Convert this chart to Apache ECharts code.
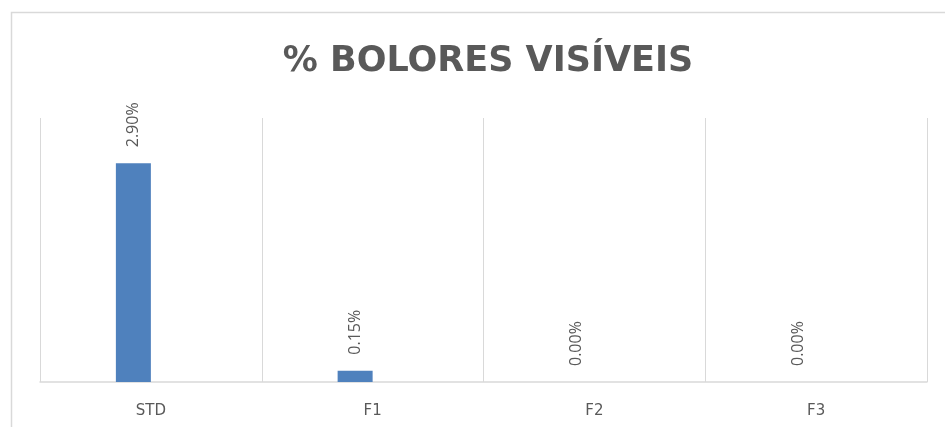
<!DOCTYPE html>
<html>
<head>
<meta charset="utf-8">
<script src="https://cdn.jsdelivr.net/npm/echarts@6/dist/echarts.min.js"></script>
<style>
  html, body { margin: 0; padding: 0; background: #fff; }
  #chart { width: 945px; height: 427px; }
</style>
</head>
<body>
<div id="chart"></div>
<script>
// dados do gráfico
var categorias = ['STD', 'F1', 'F2', 'F3'];
var bolores = [0.029, 0.0015, 0, 0];
var serieVazia = [null, null, null, null]; // segunda série sem valores (desloca as barras)
var tituloTexto = '% BOLORES VISÍVEIS';

var myChart = echarts.init(document.getElementById('chart'));

var option = {
  animation: false,
  title: {
    text: tituloTexto,
    left: 483,
    textAlign: 'center',
    top: 39,
    textStyle: {
      fontFamily: 'DejaVu Sans',
      fontWeight: 'bold',
      fontSize: 35,
      color: '#595959'
    }
  },
  graphic: [{
    type: 'rect',
    shape: { x: 11.5, y: 12.5, width: 960, height: 440 },
    style: { fill: 'none', stroke: '#d9d9d9', lineWidth: 1.5 },
    silent: true,
    z: -1
  }],
  grid: { left: 40, right: 18, top: 118, bottom: 45 },
  xAxis: {
    type: 'category',
    data: categorias,
    axisTick: { show: false },
    axisLine: { lineStyle: { color: '#d9d9d9', width: 1.5 } },
    splitLine: { show: true, lineStyle: { color: '#d9d9d9', width: 1 } },
    axisLabel: {
      color: '#595959',
      fontFamily: 'DejaVu Sans',
      fontSize: 15,
      margin: 22
    }
  },
  yAxis: {
    type: 'value',
    min: 0,
    max: 0.035,
    show: false,
    splitLine: { show: false }
  },
  series: [{
    type: 'bar',
    data: bolores,
    barWidth: 35,
    barGap: '0%',
    itemStyle: { color: '#4f81bd' },
    label: {
      show: true,
      position: 'top',
      rotate: 90,
      align: 'left',
      verticalAlign: 'middle',
      distance: 16,
      color: '#595959',
      fontFamily: 'Open Sans',
      fontSize: 16,
      formatter: function (p) { return (p.value * 100).toFixed(2) + '%'; }
    }
  }, {
    type: 'bar',
    data: serieVazia,
    barWidth: 35,
    barGap: '0%',
    itemStyle: { color: '#c0504d' }
  }]
};

myChart.setOption(option);
</script>
</body>
</html>
